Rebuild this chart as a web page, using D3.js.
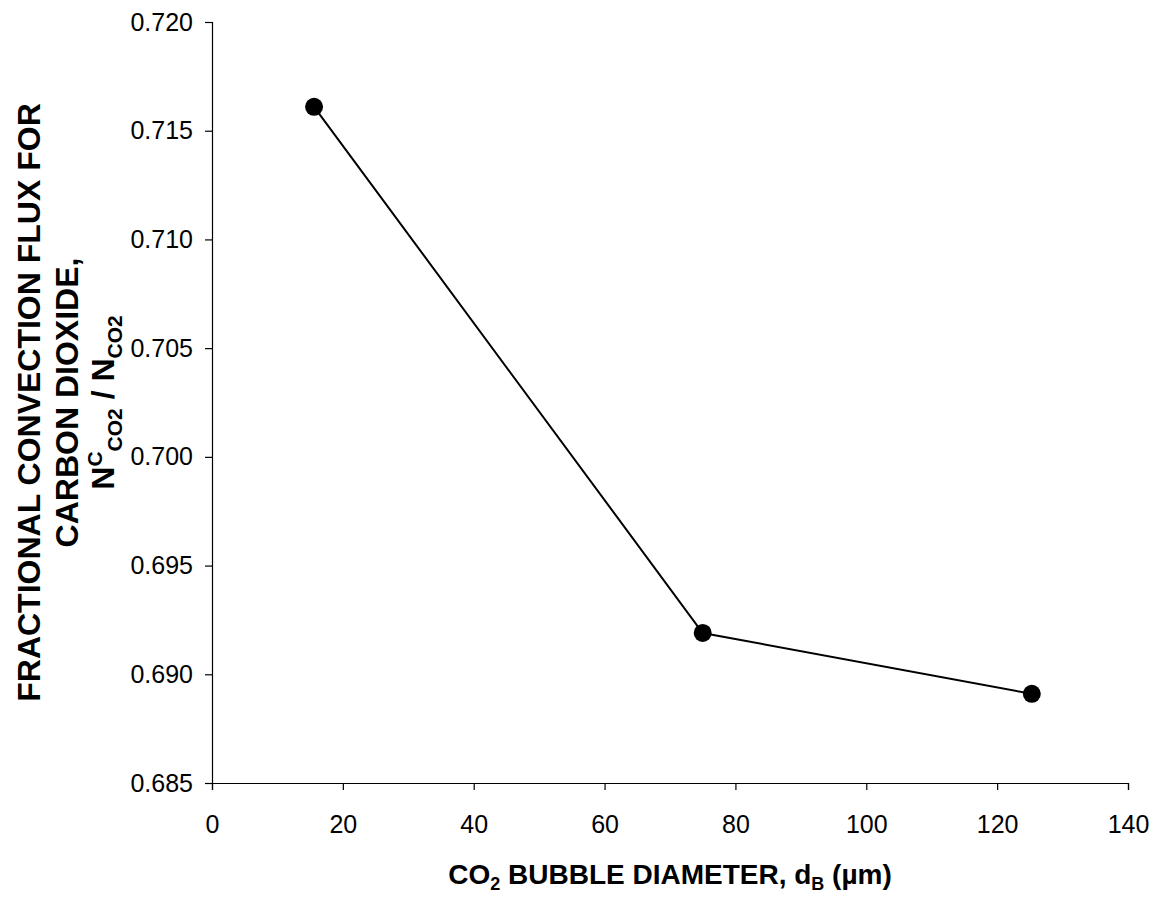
<!DOCTYPE html>
<html>
<head>
<meta charset="utf-8">
<script src="https://cdn.jsdelivr.net/npm/d3@7"></script>
<style>
  body { margin: 0; background: #fff; }
  svg { font-family: "Liberation Sans", Arial, sans-serif; }
</style>
</head>
<body>
<div id="chart"></div>
<script>
// data
const diameters = [15.6, 75, 125.3];
const fluxFraction = [0.7161, 0.6919, 0.6891];
const xTickValues = [0, 20, 40, 60, 80, 100, 120, 140];
const yTickValues = [0.685, 0.690, 0.695, 0.700, 0.705, 0.710, 0.715, 0.720];

const margin = {top: 22, right: 32, bottom: 117, left: 212},
    width = 1160 - margin.left - margin.right,
    height = 900 - margin.top - margin.bottom;

const svg = d3.select("#chart")
  .append("svg")
    .attr("width", 1160)
    .attr("height", 900);

svg.append("rect")
    .attr("width", 1160)
    .attr("height", 900)
    .attr("fill", "#fff");

const g = svg.append("g")
    .attr("transform", `translate(${margin.left},${margin.top})`);

const x = d3.scaleLinear()
  .domain([0, 140])
  .range([0, width]);

const y = d3.scaleLinear()
  .domain([0.685, 0.720])
  .range([height, 0]);

// X axis
const xAxis = g.append("g")
    .attr("transform", `translate(0,${height})`)
    .call(d3.axisBottom(x).tickValues(xTickValues).tickSize(7).tickPadding(25).tickFormat(d3.format("d")));

// Y axis
const yAxis = g.append("g")
    .call(d3.axisLeft(y).tickValues(yTickValues).tickSize(7).tickPadding(12).tickFormat(d3.format(".3f")));

[xAxis, yAxis].forEach(a => {
  a.selectAll("text")
    .attr("font-size", "25px")
    .attr("font-family", "'Liberation Sans', Arial, sans-serif")
    .attr("fill", "#000");
  a.selectAll("path, line").attr("stroke", "#000").attr("stroke-width", 1.2);
});

// line + markers
const pts = diameters.map((d, i) => [d, fluxFraction[i]]);

g.append("path")
    .datum(pts)
    .attr("fill", "none")
    .attr("stroke", "#000")
    .attr("stroke-width", 2)
    .attr("d", d3.line().x(d => x(d[0])).y(d => y(d[1])));

g.selectAll("circle.pt")
  .data(pts)
  .join("circle")
    .attr("class", "pt")
    .attr("cx", d => x(d[0]))
    .attr("cy", d => y(d[1]))
    .attr("r", 9)
    .attr("fill", "#000");

// X axis title
const xt = svg.append("text")
    .attr("x", margin.left + width / 2)
    .attr("y", 884)
    .attr("text-anchor", "middle")
    .attr("font-size", "28px")
    .attr("font-weight", "bold")
    .attr("fill", "#000");
xt.append("tspan").text("CO");
xt.append("tspan").attr("font-size", "18px").attr("dy", 6).text("2");
xt.append("tspan").attr("dy", -6).text(" BUBBLE DIAMETER, d");
xt.append("tspan").attr("font-size", "18px").attr("dy", 6).text("B");
xt.append("tspan").attr("dy", -6).text(" (µm)");

// Y axis title, three rotated lines
const cy = margin.top + height / 2;
const ytitle = (xpos) => svg.append("text")
    .attr("transform", `translate(${xpos},${cy}) rotate(-90)`)
    .attr("text-anchor", "middle")
    .attr("font-size", "32px")
    .attr("font-weight", "bold")
    .attr("fill", "#000");

ytitle(40).text("FRACTIONAL CONVECTION FLUX FOR");
ytitle(78).text("CARBON DIOXIDE,");
const l3 = ytitle(114);
l3.append("tspan").text("N");
l3.append("tspan").attr("font-size", "21px").attr("dy", -12).text("C");
l3.append("tspan").attr("font-size", "21px").attr("dy", 20).text("CO2");
l3.append("tspan").attr("dy", -8).text(" / N");
l3.append("tspan").attr("font-size", "21px").attr("dy", 8).text("CO2");
</script>
</body>
</html>
